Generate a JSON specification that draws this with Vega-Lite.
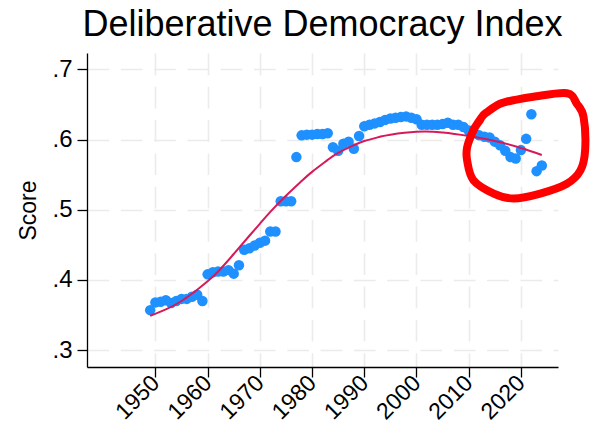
{
  "$schema": "https://vega.github.io/schema/vega-lite/v6.json",
  "width": 471,
  "height": 314,
  "autosize": {"type": "none"},
  "padding": {"left": 87, "top": 53, "right": 32, "bottom": 60},
  "background": "white",
  "config": {
    "font": "Liberation Sans",
    "view": {"stroke": null},
    "axis": {
      "domainColor": "black",
      "domainWidth": 1.3,
      "tickColor": "black",
      "tickWidth": 1.3,
      "tickSize": 10,
      "labelColor": "black",
      "labelFont": "Liberation Sans",
      "labelFontSize": 24,
      "labelPadding": 5,
      "labelOverlap": false,
      "labelBound": false,
      "gridColor": "#ebebeb",
      "gridWidth": 1.6,
      "gridDash": [21.7, 11.6],
      "titleFont": "Liberation Sans",
      "titleFontWeight": "normal",
      "titleColor": "black"
    }
  },
  "title": {
    "text": "Deliberative Democracy Index",
    "font": "Liberation Sans",
    "fontSize": 36,
    "fontWeight": "normal",
    "color": "black",
    "anchor": "middle",
    "baseline": "alphabetic",
    "offset": -19
  },
  "datasets": {
    "scores": [
      {"year": 1949, "score": 0.357}, {"year": 1950, "score": 0.368}, {"year": 1951, "score": 0.369},
      {"year": 1952, "score": 0.371}, {"year": 1953, "score": 0.367}, {"year": 1954, "score": 0.370},
      {"year": 1955, "score": 0.373}, {"year": 1956, "score": 0.373}, {"year": 1957, "score": 0.376},
      {"year": 1958, "score": 0.379}, {"year": 1959, "score": 0.370}, {"year": 1960, "score": 0.408},
      {"year": 1961, "score": 0.411}, {"year": 1962, "score": 0.412}, {"year": 1963, "score": 0.412},
      {"year": 1964, "score": 0.414}, {"year": 1965, "score": 0.409}, {"year": 1966, "score": 0.421},
      {"year": 1967, "score": 0.443}, {"year": 1968, "score": 0.445}, {"year": 1969, "score": 0.449},
      {"year": 1970, "score": 0.453}, {"year": 1971, "score": 0.456}, {"year": 1972, "score": 0.469},
      {"year": 1973, "score": 0.469}, {"year": 1974, "score": 0.512}, {"year": 1975, "score": 0.512},
      {"year": 1976, "score": 0.512}, {"year": 1977, "score": 0.575}, {"year": 1978, "score": 0.606},
      {"year": 1979, "score": 0.607}, {"year": 1980, "score": 0.607}, {"year": 1981, "score": 0.608},
      {"year": 1982, "score": 0.608}, {"year": 1983, "score": 0.609}, {"year": 1984, "score": 0.589},
      {"year": 1985, "score": 0.584}, {"year": 1986, "score": 0.594}, {"year": 1987, "score": 0.597},
      {"year": 1988, "score": 0.587}, {"year": 1989, "score": 0.605}, {"year": 1990, "score": 0.619},
      {"year": 1991, "score": 0.621}, {"year": 1992, "score": 0.623}, {"year": 1993, "score": 0.625},
      {"year": 1994, "score": 0.628}, {"year": 1995, "score": 0.630}, {"year": 1996, "score": 0.631},
      {"year": 1997, "score": 0.632}, {"year": 1998, "score": 0.633}, {"year": 1999, "score": 0.631},
      {"year": 2000, "score": 0.629}, {"year": 2001, "score": 0.621}, {"year": 2002, "score": 0.621},
      {"year": 2003, "score": 0.621}, {"year": 2004, "score": 0.621}, {"year": 2005, "score": 0.622},
      {"year": 2006, "score": 0.624}, {"year": 2007, "score": 0.621}, {"year": 2008, "score": 0.621},
      {"year": 2009, "score": 0.618}, {"year": 2010, "score": 0.613}, {"year": 2011, "score": 0.609},
      {"year": 2012, "score": 0.606}, {"year": 2013, "score": 0.604}, {"year": 2014, "score": 0.603},
      {"year": 2015, "score": 0.597}, {"year": 2016, "score": 0.592}, {"year": 2017, "score": 0.584},
      {"year": 2018, "score": 0.575}, {"year": 2019, "score": 0.573}, {"year": 2020, "score": 0.585},
      {"year": 2021, "score": 0.601}, {"year": 2022, "score": 0.636}, {"year": 2023, "score": 0.555},
      {"year": 2024, "score": 0.563}
    ],
    "fit": [
      {"year": 1949, "score": 0.349}, {"year": 1952, "score": 0.358}, {"year": 1955, "score": 0.370},
      {"year": 1958, "score": 0.386}, {"year": 1960, "score": 0.398}, {"year": 1962, "score": 0.412},
      {"year": 1965, "score": 0.437}, {"year": 1968, "score": 0.463}, {"year": 1970, "score": 0.480},
      {"year": 1972, "score": 0.497}, {"year": 1975, "score": 0.520}, {"year": 1978, "score": 0.541},
      {"year": 1980, "score": 0.554}, {"year": 1983, "score": 0.571}, {"year": 1985, "score": 0.581},
      {"year": 1988, "score": 0.592}, {"year": 1990, "score": 0.598}, {"year": 1993, "score": 0.604},
      {"year": 1995, "score": 0.607}, {"year": 2000, "score": 0.611}, {"year": 2005, "score": 0.610},
      {"year": 2010, "score": 0.605}, {"year": 2015, "score": 0.598}, {"year": 2020, "score": 0.588},
      {"year": 2024, "score": 0.578}
    ],
    "circle": [
      {"seq": 1, "year": 2010.9, "score": 0.614}, {"seq": 2, "year": 2012.5, "score": 0.632},
      {"seq": 3, "year": 2013.5, "score": 0.639}, {"seq": 4, "year": 2016.0, "score": 0.651},
      {"seq": 5, "year": 2019.2, "score": 0.657}, {"seq": 6, "year": 2022.4, "score": 0.661},
      {"seq": 7, "year": 2028.8, "score": 0.666}, {"seq": 8, "year": 2030.7, "score": 0.651},
      {"seq": 9, "year": 2032.0, "score": 0.632}, {"seq": 10, "year": 2032.3, "score": 0.585},
      {"seq": 11, "year": 2031.4, "score": 0.556}, {"seq": 12, "year": 2028.8, "score": 0.537},
      {"seq": 13, "year": 2023.7, "score": 0.523}, {"seq": 14, "year": 2018.6, "score": 0.516},
      {"seq": 15, "year": 2014.8, "score": 0.523}, {"seq": 16, "year": 2010.9, "score": 0.542},
      {"seq": 17, "year": 2009.7, "score": 0.570}, {"seq": 18, "year": 2009.7, "score": 0.589},
      {"seq": 19, "year": 2010.9, "score": 0.613}, {"seq": 20, "year": 2012.2, "score": 0.628}
    ]
  },
  "layer": [
    {
      "data": {"name": "scores"},
      "mark": {"type": "point", "filled": true, "shape": "circle", "size": 110, "color": "#1E90FF", "opacity": 1},
      "encoding": {
        "x": {
          "field": "year", "type": "quantitative",
          "scale": {"domain": [1936.9, 2027.1], "nice": false, "zero": false},
          "axis": {"values": [1950, 1960, 1970, 1980, 1990, 2000, 2010, 2020], "format": "d", "labelAngle": -45, "labelAlign": "right", "labelBaseline": "middle", "labelPadding": 2, "labelFontSize": 23, "title": null, "grid": true}
        },
        "y": {
          "field": "score", "type": "quantitative",
          "scale": {"domain": [0.276, 0.7233], "nice": false, "zero": false},
          "axis": {"values": [0.3, 0.4, 0.5, 0.6, 0.7], "labelExpr": "replace(format(datum.value, '.1f'), '0.', '.')", "title": "Score", "titleFontSize": 23, "titlePadding": 11, "grid": true}
        }
      }
    },
    {
      "data": {"name": "fit"},
      "mark": {"type": "line", "color": "#d6195b", "strokeWidth": 2, "interpolate": "natural"},
      "encoding": {
        "x": {"field": "year", "type": "quantitative"},
        "y": {"field": "score", "type": "quantitative"}
      }
    },
    {
      "data": {"name": "circle"},
      "mark": {"type": "line", "color": "#ff0000", "strokeWidth": 8, "interpolate": "cardinal", "strokeCap": "round", "strokeJoin": "round", "clip": false},
      "encoding": {
        "x": {"field": "year", "type": "quantitative"},
        "y": {"field": "score", "type": "quantitative"},
        "order": {"field": "seq", "type": "quantitative"}
      }
    }
  ]
}
